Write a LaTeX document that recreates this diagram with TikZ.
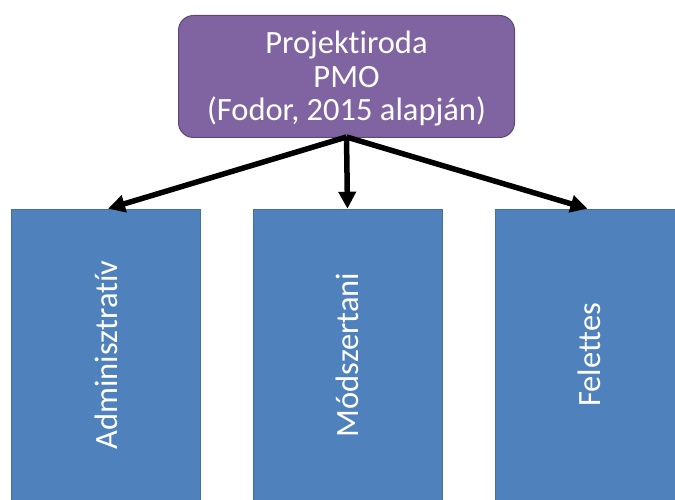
\documentclass[tikz,border=0pt]{standalone}
\usepackage{fontspec}
\setmainfont[Ligatures={NoCommon,NoRare,NoContextual},RawFeature={-liga;-clig;-dlig}]{Carlito}
\usetikzlibrary{arrows.meta}
\definecolor{pmopurple}{HTML}{8064A2}
\definecolor{pmoborder}{HTML}{5C4776}
\definecolor{boxblue}{HTML}{4F81BD}
\definecolor{boxborder}{HTML}{43719F}
\tikzset{
  topbox/.style={draw=pmoborder, line width=1pt, fill=pmopurple, rounded corners=15pt,
    minimum width=336pt, minimum height=122pt, inner sep=0pt, text=white,
    align=center, font=\fontsize{32.5}{33.5}\selectfont},
  bluebox/.style={draw=boxborder, line width=0.6pt, fill=boxblue, minimum width=189pt,
    minimum height=292pt, inner sep=0pt, text=white, font=\fontsize{32.5}{36}\selectfont},
  conn/.style={line width=5.5pt, -{Triangle[length=17pt,width=17pt]}}
}
\begin{document}
\begin{tikzpicture}[x=1pt,y=-1pt]
\useasboundingbox (0,0) rectangle (675,500);
\fill[white] (0,0) rectangle (675,500);
\clip (0,0) rectangle (675,500);
\node[topbox] (pmo) at (346.5,76.5) {};
\node[text=white, align=center, font=\fontsize{32.5}{33.5}\selectfont, inner sep=0pt]
  (pmotext) at (346.5,79) {Projekt\kern0pt iroda\\PMO\\(Fodor, 2015 alapján)};
\node[bluebox] (adm) at (106,355) {\rotatebox{90}{Adminisztrat\kern0pt ív}};
\node[bluebox] (mod) at (347.5,355) {\rotatebox{90}{Módszertani}};
\node[bluebox] (fel) at (589.5,355) {\rotatebox{90}{Felettes}};
\coordinate (src) at (346.5,137);
\draw[conn] (src) -- ([xshift=2pt]adm.north);
\draw[conn] (src) -- (mod.north);
\draw[conn] (src) -- ([xshift=-2pt]fel.north);
\end{tikzpicture}
\end{document}
